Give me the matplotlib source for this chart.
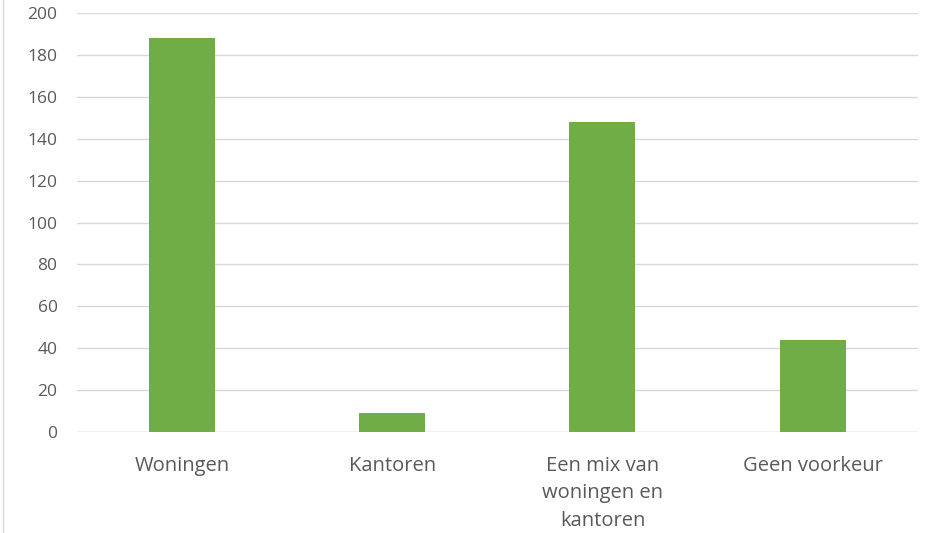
import matplotlib
matplotlib.use("Agg")
import matplotlib.pyplot as plt
from matplotlib.lines import Line2D
import numpy as np

categories = ["Woningen", "Kantoren", "Een mix van\nwoningen en\nkantoren", "Geen voorkeur"]
values = [188, 9, 148, 44]
yticks = [0, 20, 40, 60, 80, 100, 120, 140, 160, 180, 200]

plt.rcParams['font.family'] = ['Open Sans', 'DejaVu Sans']
text_color = '#595959'

fig = plt.figure(figsize=(9.29, 5.33), dpi=100)
ax = fig.add_axes([0.0829, 0.1895, 0.905, 0.7861])

x = np.arange(len(categories))
ax.bar(x, values, width=0.314, color='#70AD47', zorder=3)

ax.set_xlim(-0.5, len(categories) - 0.5)
ax.set_ylim(0, 200)
ax.set_yticks(yticks)
ax.set_xticks(x)
ax.set_xticklabels(categories, linespacing=1.5, va='top', fontsize=14.5)
ax.tick_params(axis='both', length=0, colors=text_color)
ax.tick_params(axis='y', pad=14, labelsize=12.5)
ax.tick_params(axis='x', pad=17)
ax.grid(axis='y', color='#D9D9D9', linewidth=1, zorder=0)
for s in ax.spines.values():
    s.set_visible(False)
ax.axhline(0, color='#D9D9D9', linewidth=1, zorder=1)

# thin border on the left edge of the picture
fig.add_artist(Line2D([3 / 929, 3 / 929], [0, 1], color='#D9D9D9', linewidth=1))

fig.savefig("out.png", dpi=100)
